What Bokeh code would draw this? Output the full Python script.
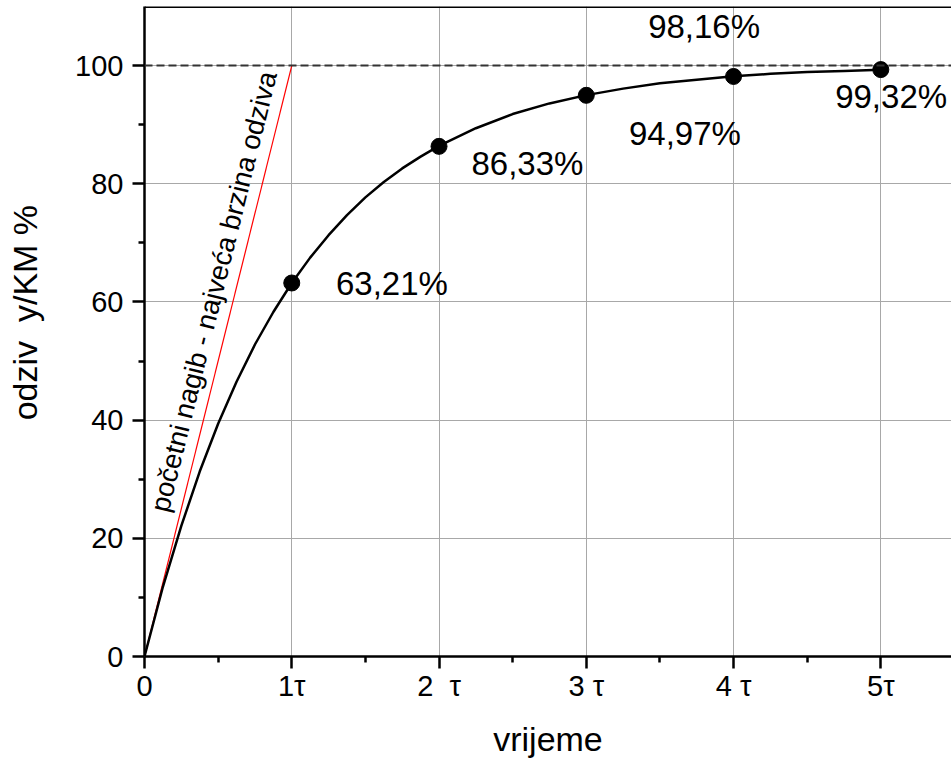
from bokeh.plotting import figure
from bokeh.models import FixedTicker, Range1d, Span, ColumnDataSource
from bokeh.core.properties import value
from bokeh.embed import file_html
from bokeh.resources import INLINE

# ---- data ----
curve_t = [0, 0.125, 0.25, 0.375, 0.5, 0.625, 0.75, 0.875, 1.0, 1.125, 1.25, 1.375,
           1.5, 1.625, 1.75, 1.875, 2.0, 2.25, 2.5, 2.75, 3.0, 3.25, 3.5, 3.75,
           4.0, 4.25, 4.5, 4.75, 5.0]
curve_y = [0, 11.8, 22.1, 31.3, 39.4, 46.5, 52.8, 58.3, 63.2, 67.5, 71.3, 74.7,
           77.7, 80.3, 82.6, 84.6, 86.4, 89.4, 91.8, 93.6, 95.0, 96.1, 97.0, 97.6,
           98.2, 98.6, 98.9, 99.1, 99.3]
point_t = [1, 2, 3, 4, 5]
point_y = [63.21, 86.33, 94.97, 98.16, 99.32]
point_labels = ["63,21%", "86,33%", "94,97%", "98,16%", "99,32%"]
label_x = [1.68, 2.60, 3.67, 3.80, 5.07]
label_y = [63.2, 83.4, 88.5, 106.7, 94.8]
slope_t = [0, 1]
slope_y = [0, 100]
slope_text = "početni nagib - najveća brzina odziva"
x_ticks = [0, 1, 2, 3, 4, 5]
x_minor = [0.5, 1.5, 2.5, 3.5, 4.5]
x_tick_labels = ["0", "1τ", "2\u00a0\u00a0τ", "3\u00a0τ", "4\u00a0τ", "5τ"]
y_ticks = [0, 20, 40, 60, 80, 100]
y_minor = [10, 30, 50, 70, 90]
x_label = "vrijeme"
y_label = "\u00a0\u00a0\u00a0\u00a0odziv\u00a0\u00a0y/KM %"

FONT = "Liberation Sans"
Y_MAX = 110.0

p = figure(width=951, height=760, output_backend="svg", toolbar_location=None,
           x_range=Range1d(0, 5.48), y_range=Range1d(0, Y_MAX),
           min_border_left=144, min_border_right=0, min_border_top=6,
           min_border_bottom=102)
p.outline_line_color = None
p.background_fill_color = "white"
p.border_fill_color = "white"

p.xaxis.ticker = FixedTicker(ticks=x_ticks, minor_ticks=x_minor)
p.yaxis.ticker = FixedTicker(ticks=y_ticks, minor_ticks=y_minor)
p.xgrid.ticker = FixedTicker(ticks=x_ticks)
p.ygrid.ticker = FixedTicker(ticks=y_ticks)
for g in (p.xgrid, p.ygrid):
    g.grid_line_color = "#a8a8a8"
    g.grid_line_width = 1

p.xaxis.major_label_overrides = {t: s for t, s in zip(x_ticks, x_tick_labels)}

for ax in (p.xaxis, p.yaxis):
    ax.axis_line_width = 2.5
    ax.axis_line_color = "black"
    ax.major_tick_in = 0
    ax.major_tick_out = 12
    ax.minor_tick_in = 0
    ax.minor_tick_out = 6
    ax.major_tick_line_width = 2.5
    ax.minor_tick_line_width = 2.5
    ax.major_tick_line_color = "black"
    ax.minor_tick_line_color = "black"
    ax.major_label_text_font = FONT
    ax.major_label_text_font_size = "29px"
    ax.major_label_text_color = "black"
    ax.axis_label_text_font = FONT
    ax.axis_label_text_font_size = "34px"
    ax.axis_label_text_font_style = "normal"
    ax.axis_label_text_color = "black"

p.xaxis.axis_label = x_label
p.yaxis.axis_label = y_label
p.xaxis.major_label_standoff = 1
p.xaxis.axis_label_standoff = 15
p.yaxis.major_label_standoff = 9
p.yaxis.axis_label_standoff = 28

# top border
p.add_layout(Span(location=Y_MAX, dimension="width", line_color="black", line_width=3))
# dashed 100% line
p.add_layout(Span(location=100, dimension="width", line_color="#333333",
                  line_width=2, line_dash="8 4"))

# initial slope line
p.line(slope_t, slope_y, line_color="red", line_width=1.2)
# response curve
p.line(curve_t, curve_y, line_color="black", line_width=2.5)
# points
p.scatter(point_t, point_y, size=16, color="black", marker="circle")

# labels
src = ColumnDataSource(dict(x=label_x, y=label_y, t=point_labels))
p.text(x="x", y="y", text="t", source=src, text_font=value(FONT),
       text_font_size="33px", text_align="center", text_baseline="middle",
       text_color="black")

p.text(x=[0.10], y=[24.6], text=[slope_text], angle=76.1, angle_units="deg",
       text_font=value(FONT), text_font_size="27.5px", text_align="left",
       text_baseline="alphabetic", text_color="black")

open("out.html", "w").write(file_html(p, INLINE))
